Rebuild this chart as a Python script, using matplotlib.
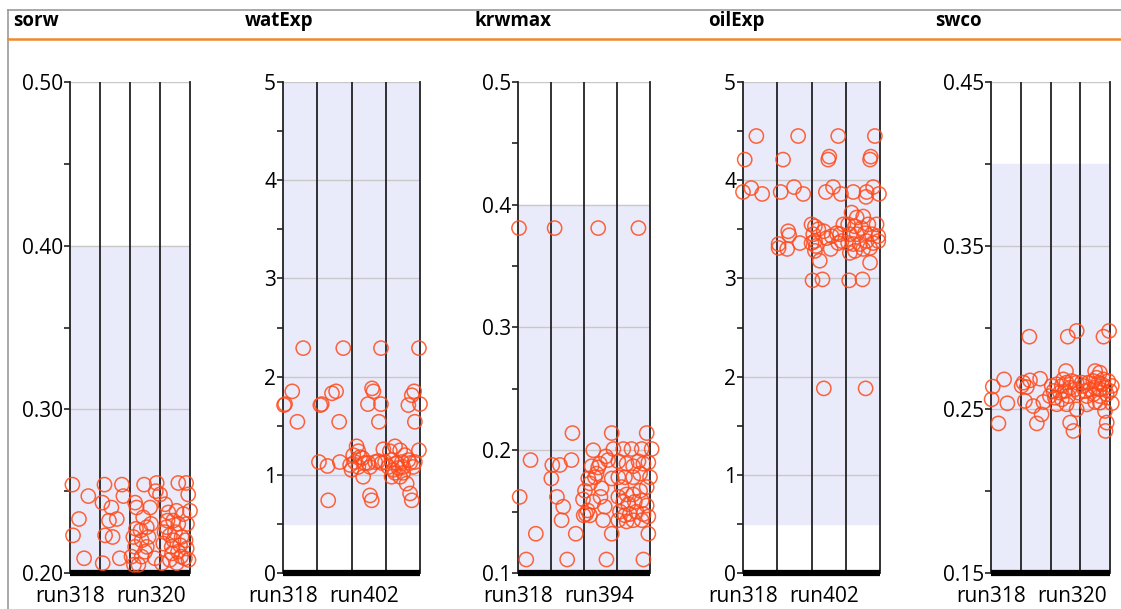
import numpy as np
import matplotlib.pyplot as plt
import matplotlib.transforms as mtransforms
from matplotlib.lines import Line2D
from matplotlib.ticker import FormatStrFormatter

plt.rcParams['font.family'] = ['Open Sans', 'DejaVu Sans']

# parameter names and the two run labels shown under each strip
params = ['sorw', 'watExp', 'krwmax', 'oilExp', 'swco']
run_labels = [('run318', 'run320'), ('run318', 'run402'), ('run318', 'run394'),
              ('run318', 'run402'), ('run318', 'run320')]

# axis limits, prior ranges (shaded), tick steps
y_limits = [(0.20, 0.50), (0, 5), (0.1, 0.5), (0, 5), (0.15, 0.45)]
prior_ranges = [(0.20, 0.40), (0.5, 5.0), (0.1, 0.4), (0.5, 5.0), (0.15, 0.40)]
major_steps = [0.10, 1, 0.1, 1, 0.10]
label_fmt = ['%.2f', '%d', '%.1f', '%d', '%.2f']

# sampled values; x = run column (0..4) incl. jitter inside the column
sorw_x = [0.08, 0.61, 0.30, 0.10, 0.47,
          1.15, 1.73, 1.78, 1.08, 1.38, 1.30, 1.56, 1.17, 1.42, 1.09, 1.66,
          2.47, 2.89, 2.86, 2.17, 2.22, 2.67, 2.44, 2.20, 2.35, 2.56, 2.11, 2.39, 2.62,
          2.17, 2.56, 2.39, 2.28, 2.83, 2.05, 2.70, 2.50, 2.13,
          3.00, 3.17, 3.28, 3.44, 3.22, 3.61, 3.33, 3.50, 3.72, 3.11, 3.39, 3.67, 3.89,
          3.61, 3.87, 3.94, 4.00, 3.33, 3.56, 3.83, 3.06, 3.90, 3.78, 3.55, 3.25, 3.45,
          3.15, 3.70, 3.95, 3.85, 3.40, 3.60]
sorw_y = [0.254, 0.247, 0.233, 0.223, 0.209,
          0.254, 0.254, 0.247, 0.243, 0.240, 0.232, 0.233, 0.223, 0.222, 0.206, 0.209,
          0.254, 0.255, 0.250, 0.243, 0.240, 0.240, 0.234, 0.227, 0.226, 0.228, 0.222, 0.220, 0.222,
          0.216, 0.216, 0.210, 0.205, 0.209, 0.210, 0.230, 0.213, 0.205,
          0.248, 0.242, 0.237, 0.232, 0.228, 0.230, 0.223, 0.225, 0.222, 0.218, 0.216, 0.217, 0.215,
          0.255, 0.255, 0.248, 0.238, 0.208, 0.206, 0.209, 0.206, 0.230, 0.236, 0.238, 0.232, 0.220,
          0.225, 0.210, 0.208, 0.220, 0.212, 0.213]

watexp_x = [0.06, 0.27, 0.42, 0.59, 0.03,
            1.13, 1.09, 1.43, 1.55, 1.64, 1.76, 1.05, 1.30, 1.66, 1.32,
            2.48, 2.64, 2.86, 2.80, 2.86, 2.60,
            2.15, 2.20, 2.05, 2.25, 2.10, 1.96, 2.32, 2.39, 2.20, 2.00, 2.34, 2.49, 2.69,
            2.54, 2.78, 2.93, 2.88, 2.54, 2.59,
            3.66, 3.83, 4.00, 3.85, 3.97, 3.76,
            3.12, 3.27, 3.42, 3.56, 3.17, 3.32, 3.47, 3.66, 3.08, 3.22, 3.37, 3.51,
            3.71, 3.85, 3.17, 3.42, 3.61, 3.71, 3.76, 3.97, 2.98, 3.27, 3.51, 3.80]
watexp_y = [1.72, 1.85, 1.54, 2.29, 1.71,
            1.72, 1.71, 1.83, 1.85, 1.54, 2.29, 1.13, 1.09, 1.13, 0.74,
            1.72, 1.85, 1.72, 1.54, 2.29, 1.88,
            1.29, 1.24, 1.20, 1.18, 1.13, 1.10, 1.17, 1.12, 1.08, 1.05, 0.98, 1.12, 1.13,
            1.08, 1.14, 1.26, 1.12, 0.79, 0.74,
            1.71, 1.85, 1.72, 1.54, 2.29, 1.81,
            1.24, 1.29, 1.25, 1.20, 1.15, 1.12, 1.13, 1.15, 1.08, 1.05, 1.07, 1.08,
            1.12, 1.13, 0.98, 0.98, 0.91, 0.81, 0.74, 1.25, 1.13, 1.02, 1.02, 1.08]

krwmax_x = [0.03, 0.38, 0.05, 0.54, 0.25,
            1.11, 1.01, 1.04, 1.27, 1.18, 1.37, 1.32, 1.62, 1.65, 1.75, 1.49,
            2.43, 2.28, 2.23, 2.38, 2.13, 2.03, 1.97, 2.06, 2.18, 2.33, 2.53, 2.50, 2.63,
            2.58, 2.48, 2.66, 2.73, 2.84, 2.89, 2.84, 2.68, 1.99, 2.43, 2.18, 2.11, 2.28, 2.84,
            3.65, 3.04, 3.29, 3.49, 3.65, 3.80, 3.95, 3.70, 3.49, 3.24, 3.04, 3.14, 3.29,
            3.49, 3.70, 3.90, 4.00, 3.04, 3.19, 3.34, 3.54, 3.75, 3.90, 3.09, 3.24, 3.39,
            3.59, 3.80, 3.04, 3.29, 3.49, 3.75, 3.95, 3.95, 3.80, 3.90, 4.05, 3.44, 3.19, 3.75]
krwmax_y = [0.381, 0.192, 0.162, 0.132, 0.111,
            0.381, 0.177, 0.188, 0.188, 0.162, 0.154, 0.143, 0.192, 0.214, 0.132, 0.111,
            0.381, 0.200, 0.187, 0.181, 0.177, 0.167, 0.160, 0.148, 0.147, 0.178, 0.169, 0.162, 0.154,
            0.143, 0.189, 0.195, 0.192, 0.177, 0.201, 0.214, 0.111, 0.147, 0.186, 0.173, 0.151, 0.158, 0.132,
            0.381, 0.191, 0.189, 0.187, 0.191, 0.189, 0.190, 0.181, 0.178, 0.178, 0.178, 0.170, 0.164,
            0.164, 0.167, 0.170, 0.178, 0.162, 0.158, 0.156, 0.158, 0.159, 0.155, 0.150, 0.147, 0.148,
            0.150, 0.148, 0.143, 0.142, 0.143, 0.143, 0.146, 0.132, 0.111, 0.214, 0.201, 0.201, 0.201, 0.201]

oilexp_x = [0.39, 0.05, 0.00, 0.24, 0.56,
            1.61, 1.17, 1.10, 1.49, 1.76, 1.32, 1.35, 1.04, 1.04, 1.29, 1.66,
            2.78, 2.49, 2.52, 2.42, 2.63, 2.86,
            2.00, 2.10, 2.20, 2.05, 2.10, 2.13, 2.00, 2.24, 2.56, 2.36, 2.59, 2.73, 2.83,
            2.78, 2.03, 2.32, 2.93, 2.88, 2.10, 2.44, 2.36,
            3.85, 3.71, 3.73, 3.22, 3.61, 3.59, 3.80, 3.97, 3.10, 3.49, 3.71,
            3.17, 3.32, 3.51, 3.07, 3.27, 3.46, 3.66, 3.90, 3.12, 3.32, 3.56, 3.76, 3.95,
            3.07, 3.22, 3.41, 3.61, 3.80, 3.95, 3.27, 3.51, 3.12, 3.71, 3.58]
oilexp_y = [4.45, 4.21, 3.88, 3.92, 3.86,
            4.45, 4.21, 3.88, 3.93, 3.86, 3.48, 3.44, 3.35, 3.31, 3.30, 3.36,
            4.45, 4.21, 4.24, 3.88, 3.93, 3.86,
            3.55, 3.53, 3.50, 3.45, 3.38, 3.33, 3.36, 3.18, 3.30, 3.48, 3.43, 3.46, 3.45,
            3.36, 2.98, 2.99, 3.55, 3.38, 3.28, 3.41, 1.88,
            4.45, 4.21, 4.24, 3.88, 3.88, 3.83, 3.93, 3.86, 2.98, 2.99, 3.16,
            3.67, 3.62, 3.63, 3.55, 3.53, 3.51, 3.55, 3.55, 3.45, 3.45, 3.46, 3.45, 3.43,
            3.36, 3.35, 3.35, 3.38, 3.36, 3.38, 3.28, 3.30, 3.26, 3.31, 1.88]

swco_x = [0.06, 0.44, 0.02, 0.55, 0.25,
          1.29, 1.09, 1.31, 1.65, 1.20, 1.14, 1.42, 1.76, 1.70, 1.54, 1.03,
          2.58, 2.88, 2.52, 2.04, 2.21, 2.38, 2.54, 2.71, 2.88, 2.10, 2.32, 2.49, 2.66,
          2.82, 2.15, 2.38, 2.60, 2.21, 2.54, 2.66, 2.77, 2.88, 1.98, 2.43, 2.94,
          3.78, 3.97, 3.66, 3.50, 3.50, 3.66, 3.83, 3.89, 3.85, 4.06, 3.22,
          3.10, 3.27, 3.44, 3.61, 3.78, 3.94, 4.06, 3.16, 3.33, 3.50, 3.66, 3.83, 4.00,
          3.22, 3.44, 3.66, 3.89, 3.05, 3.55, 3.72]
swco_y = [0.2639, 0.2683, 0.2561, 0.2537, 0.2414,
          0.2944, 0.2663, 0.2677, 0.2687, 0.2636, 0.2551, 0.2520, 0.2545, 0.2469, 0.2414, 0.2643,
          0.2944, 0.2979, 0.2734, 0.2643, 0.2653, 0.2643, 0.2663, 0.2673, 0.2663, 0.2612, 0.2602, 0.2612, 0.2632,
          0.2622, 0.2571, 0.2561, 0.2581, 0.2531, 0.2531, 0.2419, 0.2368, 0.2500, 0.2581, 0.2683, 0.2602,
          0.2944, 0.2979, 0.2724, 0.2734, 0.2545, 0.2541, 0.2490, 0.2419, 0.2368, 0.2537, 0.2530,
          0.2643, 0.2663, 0.2673, 0.2663, 0.2683, 0.2673, 0.2643, 0.2612, 0.2622, 0.2632, 0.2622, 0.2632, 0.2612,
          0.2581, 0.2592, 0.2581, 0.2592, 0.2663, 0.2693, 0.2653]

samples = [(sorw_x, sorw_y), (watexp_x, watexp_y), (krwmax_x, krwmax_y),
           (oilexp_x, oilexp_y), (swco_x, swco_y)]
n_runs = 4

W, H = 1121, 609
fig = plt.figure(figsize=(W / 100, H / 100), dpi=100)

# strip layout in pixels: (left, right) of each axes, and title x
ax_px = [(70, 190), (283, 420), (518, 650), (743, 880), (991, 1110)]
title_px = [13, 245, 475, 708, 935]
top_px, bot_px = 82, 573

# outer frame and header rule
fig.add_artist(Line2D([8 / W, 8 / W], [0, 1 - 10 / H], color='#999999', lw=1.2))
fig.add_artist(Line2D([8 / W, 1], [1 - 10 / H, 1 - 10 / H], color='#999999', lw=1.2))
fig.add_artist(Line2D([8 / W, 1], [1 - 38.5 / H, 1 - 38.5 / H], color='#f0892a', lw=1.8))

for i, name in enumerate(params):
    fig.text(title_px[i] / W, 1 - 21 / H, name, fontsize=13.5, fontweight='bold',
             va='center', ha='left')

    l, r = ax_px[i]
    ax = fig.add_axes([l / W, 1 - bot_px / H, (r - l) / W, (bot_px - top_px) / H])
    lo, hi = y_limits[i]
    step = major_steps[i]
    ax.set_xlim(0, n_runs)
    ax.set_ylim(lo, hi)

    ax.axhspan(*prior_ranges[i], color='#eaebfa', zorder=0)
    ax.set_yticks(np.arange(lo, hi + step / 4, step))
    ax.set_yticks(np.arange(lo + step / 2, hi, step), minor=True)
    ax.yaxis.set_major_formatter(FormatStrFormatter(label_fmt[i]))
    ax.grid(axis='y', which='major', color='#c8c8c8', lw=1, zorder=1)
    ax.set_axisbelow(True)
    for k in range(1, n_runs):
        ax.axvline(k, color='#222222', lw=1.3, zorder=2)

    xs, ys = samples[i]
    ax.scatter(xs, ys, s=105, facecolors='none', edgecolors='#ff4a1a',
               linewidths=1.1, alpha=0.85, zorder=3, clip_on=False)

    ax.set_xticks([])
    ax.tick_params(axis='y', which='major', length=4, width=1.2, labelsize=15,
                   pad=1, color='#222222')
    ax.tick_params(axis='y', which='minor', length=4, width=1.2, color='#222222')
    for side in ('left', 'right'):
        ax.spines[side].set_color('#222222')
        ax.spines[side].set_linewidth(1.3)
    ax.spines['top'].set_visible(False)
    ax.spines['bottom'].set_color('black')
    ax.spines['bottom'].set_linewidth(4.5)
    ax.spines['bottom'].set_capstyle('butt')

    # run labels below the strip
    base = mtransforms.blended_transform_factory(ax.transAxes, ax.transAxes)
    for lab, dx in zip(run_labels[i], (0, 81)):
        tr = mtransforms.offset_copy(base, fig=fig, x=dx, y=-13, units='dots')
        ax.text(0, 0, lab, transform=tr, ha='center', va='top', fontsize=15)

fig.savefig('out.png', dpi=100)
